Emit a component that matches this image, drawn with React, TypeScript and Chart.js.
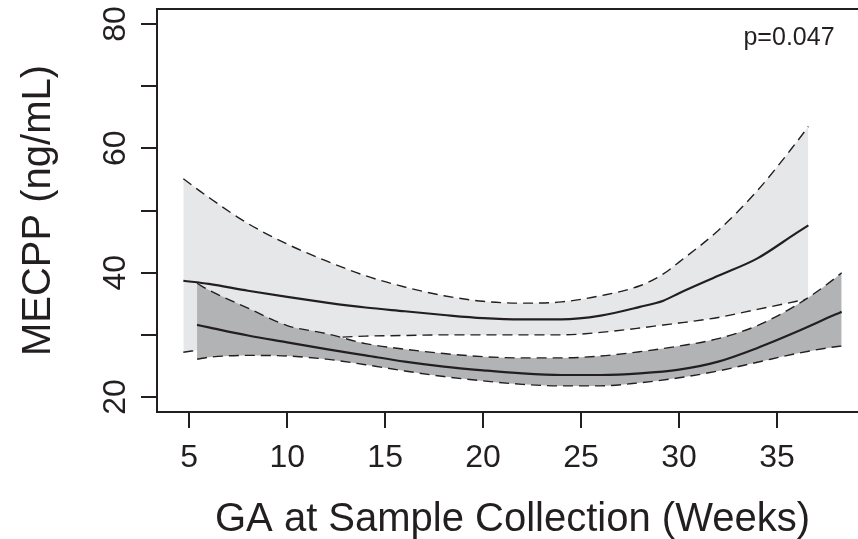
import React, { useEffect, useRef } from "react";
import { Chart, registerables } from "chart.js";

Chart.register(...registerables);

// ---- data ----
// Group A: light band (upper curve)
const weeksA = [4.7, 6, 8, 10, 12, 14, 16, 18, 20, 22, 24, 26, 28, 29.2, 30, 32, 34, 36, 36.6];
const meanA = [38.7, 38.2, 37.1, 36.1, 35.2, 34.4, 33.8, 33.2, 32.7, 32.5, 32.5, 33.1, 34.5, 35.5, 36.7, 39.5, 42.3, 46.4, 47.6];
const upperA = [55.1, 52.1, 47.9, 44.6, 41.9, 39.5, 37.7, 36.3, 35.4, 35.1, 35.3, 36.3, 37.9, 39.8, 41.7, 46.8, 53.2, 61.0, 63.5];
const lowerA = [27.2, 27.8, 28.6, 29.2, 29.5, 29.8, 29.9, 30.0, 30.0, 30.0, 30.0, 30.4, 31.1, 31.6, 31.9, 32.8, 34.1, 35.4, 35.8];

// Group B: dark band (lower curve)
const weeksB = [5.4, 6, 8, 10, 12, 14, 16, 18, 20, 22, 24, 26, 28, 30, 32, 34, 36, 38, 38.3];
const meanB = [31.6, 31.2, 29.9, 28.8, 27.7, 26.7, 25.7, 24.9, 24.3, 23.8, 23.55, 23.55, 23.8, 24.4, 25.7, 27.9, 30.5, 33.3, 33.7];
const upperB = [38.3, 37.2, 34.3, 31.5, 30.2, 28.6, 27.7, 27.0, 26.5, 26.3, 26.3, 26.6, 27.3, 28.2, 29.4, 31.5, 34.8, 39.2, 40.0];
const lowerB = [26.1, 26.4, 26.7, 26.6, 26.1, 25.2, 24.2, 23.3, 22.6, 22.05, 21.8, 21.8, 22.3, 23.1, 24.2, 25.6, 27.0, 28.1, 28.2];

const xTicks = [5, 10, 15, 20, 25, 30, 35];
const yTicks = [20, 30, 40, 50, 60, 70, 80];
const yTickLabels = [20, 40, 60, 80];
const xTitle = "GA at Sample Collection (Weeks)";
const yTitle = "MECPP (ng/mL)";
const pText = "p=0.047";

const INK = "#231f20";
const LIGHT = "#e6e7e8";
const DARK = "#b2b3b5";
const FONT = '"Liberation Sans", Arial, Helvetica, sans-serif';

const pts = (xs: number[], ys: number[]) => xs.map((x, i) => ({ x, y: ys[i] }));

// R-style 4% axis extension
const allX = [...weeksA, ...weeksB];
const xLo = Math.min(...allX);
const xHi = Math.max(...allX);
const xPad = (xHi - xLo) * 0.04;
const yLo = Math.min(...yTicks);
const yHi = Math.max(...yTicks);
const yPad = (yHi - yLo) * 0.04;

const axesPlugin = {
  id: "rAxes",
  afterDatasetsDraw(chart: any) {
    const { ctx, chartArea: a, scales } = chart;
    const x = scales.x;
    const y = scales.y;
    ctx.save();
    ctx.strokeStyle = INK;
    ctx.fillStyle = INK;
    ctx.lineWidth = 2;
    ctx.setLineDash([]);
    ctx.strokeRect(a.left, a.top, a.right - a.left, a.bottom - a.top);
    ctx.beginPath();
    xTicks.forEach((v) => {
      const px = Math.round(x.getPixelForValue(v));
      ctx.moveTo(px, a.bottom);
      ctx.lineTo(px, a.bottom + 16);
    });
    yTicks.forEach((v) => {
      const py = Math.round(y.getPixelForValue(v));
      ctx.moveTo(a.left, py);
      ctx.lineTo(a.left - 16, py);
    });
    ctx.stroke();

    ctx.font = `32px ${FONT}`;
    ctx.textAlign = "center";
    ctx.textBaseline = "alphabetic";
    xTicks.forEach((v) => ctx.fillText(String(v), x.getPixelForValue(v), a.bottom + 55));
    yTickLabels.forEach((v) => {
      ctx.save();
      ctx.translate(a.left - 32, y.getPixelForValue(v));
      ctx.rotate(-Math.PI / 2);
      ctx.fillText(String(v), 0, 0);
      ctx.restore();
    });

    ctx.font = `40px ${FONT}`;
    ctx.fillText(xTitle, (a.left + a.right) / 2, 531);
    ctx.save();
    ctx.translate(49.5, (a.top + a.bottom) / 2);
    ctx.rotate(-Math.PI / 2);
    ctx.fillText(yTitle, 0, 0);
    ctx.restore();

    ctx.font = `25px ${FONT}`;
    ctx.fillText(pText, 789, 45);
    ctx.restore();
  },
};

export default function App() {
  const ref = useRef<HTMLCanvasElement | null>(null);

  useEffect(() => {
    document.body.style.margin = "0";
    document.body.style.overflow = "hidden";
    const canvas = ref.current;
    if (!canvas) return;
    const common = {
      pointRadius: 0,
      pointHoverRadius: 0,
      cubicInterpolationMode: "monotone" as const,
      borderColor: INK,
    };
    const dashed = { borderWidth: 1.4, borderDash: [10, 6] };
    const chart = new Chart(canvas, {
      type: "line",
      data: {
        datasets: [
          { ...common, ...dashed, label: "A upper", data: pts(weeksA, upperA), fill: "+1", backgroundColor: LIGHT, order: 6 },
          { ...common, ...dashed, label: "A lower", data: pts(weeksA, lowerA), fill: false, order: 5 },
          { ...common, borderWidth: 2.2, label: "A mean", data: pts(weeksA, meanA), fill: false, order: 0 },
          { ...common, ...dashed, label: "B upper", data: pts(weeksB, upperB), fill: "+1", backgroundColor: DARK, order: 3 },
          { ...common, ...dashed, label: "B lower", data: pts(weeksB, lowerB), fill: false, order: 2 },
          { ...common, borderWidth: 2.2, label: "B mean", data: pts(weeksB, meanB), fill: false, order: 1 },
        ] as any,
      },
      options: {
        responsive: false,
        animation: false,
        devicePixelRatio: 1,
        layout: { padding: { left: 157, top: 9, right: 2, bottom: 127 } },
        plugins: { legend: { display: false }, tooltip: { enabled: false } },
        events: [],
        scales: {
          x: { type: "linear", display: false, min: xLo - xPad, max: xHi + xPad },
          y: { type: "linear", display: false, min: yLo - yPad, max: yHi + yPad },
        },
      },
      plugins: [axesPlugin],
    });
    return () => chart.destroy();
  }, []);

  return (
    <div style={{ position: "fixed", left: 0, top: 0, width: 858, height: 539, overflow: "hidden", background: "#fff" }}>
      <canvas ref={ref} width={870} height={539} style={{ display: "block" }} />
    </div>
  );
}
